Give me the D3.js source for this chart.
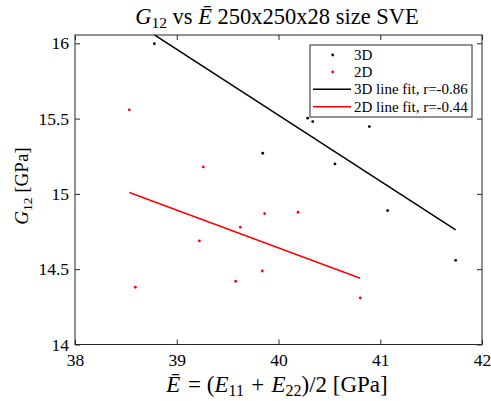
<!DOCTYPE html>
<html>
<head>
<meta charset="utf-8">
<script src="https://cdn.jsdelivr.net/npm/d3@7/dist/d3.min.js"></script>
<style>
  html, body { margin: 0; padding: 0; background: #fff; }
  svg text { font-family: "Liberation Serif", "Times New Roman", serif; fill: #000; }
</style>
</head>
<body>
<svg id="chart" width="491" height="401"></svg>
<script>
// Mean modulus E-bar (GPa) and shear modulus G12 (GPa) per sample
const x3D = [38.78, 39.845, 40.287, 40.336, 40.893, 40.555, 41.073, 41.741];
const y3D = [15.997, 15.27, 15.503, 15.48, 15.447, 15.199, 14.889, 14.559];
const x2D = [38.534, 39.261, 39.222, 39.625, 39.579, 39.841, 39.864, 38.593, 40.192, 40.804];
const y2D = [15.558, 15.179, 14.688, 14.779, 14.42, 14.488, 14.869, 14.38, 14.878, 14.309];

// Least-squares fit lines, evaluated at the ends of each data range
const fit3DX = [38.78, 41.741];
const fit3DY = [16.056, 14.761];
const fit2DX = [38.534, 40.804];
const fit2DY = [15.009, 14.44];

const xTicks = [38, 39, 40, 41, 42];
const yTicks = [14, 14.5, 15, 15.5, 16];
const legendLabels = ["3D", "2D", "3D line fit, r=-0.86", "2D line fit, r=-0.44"];

const svg = d3.select("#chart");
const L = 75, R = 482, T = 35, B = 344.5;
const axisColor = "#262626";
const serif = "'Liberation Serif', 'Times New Roman', serif";

const x = d3.scaleLinear().domain([38, 42]).range([L, R]);
const y = d3.scaleLinear().domain([14, 16.055]).range([B, T]);

svg.append("defs").append("clipPath").attr("id", "plotArea")
  .append("rect").attr("x", L).attr("y", T).attr("width", R - L).attr("height", B - T);

const fmt = d => String(d);

// Axes with inward ticks on all four sides
const gB = svg.append("g").attr("transform", `translate(0,${B})`)
  .call(d3.axisBottom(x).tickValues(xTicks).tickFormat(fmt).tickSizeInner(-5).tickSizeOuter(0).tickPadding(9));
const gT = svg.append("g").attr("transform", `translate(0,${T})`)
  .call(d3.axisTop(x).tickValues(xTicks).tickFormat("").tickSizeInner(-5).tickSizeOuter(0));
const gL = svg.append("g").attr("transform", `translate(${L},0)`)
  .call(d3.axisLeft(y).tickValues(yTicks).tickFormat(fmt).tickSizeInner(-5).tickSizeOuter(0).tickPadding(6));
const gR = svg.append("g").attr("transform", `translate(${R},0)`)
  .call(d3.axisRight(y).tickValues(yTicks).tickFormat("").tickSizeInner(-5).tickSizeOuter(0));

[gB, gT, gL, gR].forEach(g => {
  g.select(".domain").remove();
  g.selectAll(".tick line").attr("stroke", axisColor).attr("stroke-width", 1);
  g.selectAll(".tick text").style("font-family", serif).attr("font-size", 17.5).attr("fill", "#000");
});

svg.append("rect").attr("x", L).attr("y", T).attr("width", R - L).attr("height", B - T)
  .attr("fill", "none").attr("stroke", axisColor).attr("stroke-width", 1);

const plot = svg.append("g").attr("clip-path", "url(#plotArea)");

// Scatter points
plot.selectAll("circle.p3d").data(d3.range(x3D.length)).join("circle")
  .attr("class", "p3d").attr("cx", i => x(x3D[i])).attr("cy", i => y(y3D[i]))
  .attr("r", 1.4).attr("fill", "#000");
plot.selectAll("circle.p2d").data(d3.range(x2D.length)).join("circle")
  .attr("class", "p2d").attr("cx", i => x(x2D[i])).attr("cy", i => y(y2D[i]))
  .attr("r", 1.4).attr("fill", "#ff0000");

// Fit lines
const line = d3.line().x(d => x(d[0])).y(d => y(d[1]));
plot.append("path").datum(d3.zip(fit3DX, fit3DY)).attr("d", line)
  .attr("fill", "none").attr("stroke", "#000").attr("stroke-width", 1.5);
plot.append("path").datum(d3.zip(fit2DX, fit2DY)).attr("d", line)
  .attr("fill", "none").attr("stroke", "#ff0000").attr("stroke-width", 1.5);

// Title
const title = svg.append("text").attr("x", 277).attr("y", 24).attr("text-anchor", "middle")
  .style("font-family", serif).attr("font-size", 22.5);
title.append("tspan").attr("font-style", "italic").text("G");
title.append("tspan").attr("font-size", 15.5).attr("dy", 4).text("12");
title.append("tspan").attr("dy", -4).text(" vs ");
title.append("tspan").attr("font-style", "italic").text("Ē");
title.append("tspan").text(" 250x250x28 size SVE");

// X axis label
const xl = svg.append("text").attr("x", 277).attr("y", 392).attr("text-anchor", "middle")
  .style("font-family", serif).attr("font-size", 23);
xl.append("tspan").attr("font-style", "italic").text("Ē");
xl.append("tspan").attr("dx", 2).text(" = (");
xl.append("tspan").attr("font-style", "italic").text("E");
xl.append("tspan").attr("font-size", 16).attr("dy", 4).text("11");
xl.append("tspan").attr("dy", -4).attr("dx", 1.5).text(" + ");
xl.append("tspan").attr("font-style", "italic").attr("dx", 1.5).text("E");
xl.append("tspan").attr("font-size", 16).attr("dy", 4).text("22");
xl.append("tspan").attr("dy", -4).text(")/2 [GPa]");

// Y axis label
const yl = svg.append("text").attr("transform", "translate(28,186) rotate(-90)")
  .attr("text-anchor", "middle").style("font-family", serif).attr("font-size", 19);
yl.append("tspan").attr("font-style", "italic").text("G");
yl.append("tspan").attr("font-size", 13.5).attr("dy", 4).text("12");
yl.append("tspan").attr("dy", -4).text(" [GPa]");

// Legend
const lg = svg.append("g");
lg.append("rect").attr("x", 310).attr("y", 45).attr("width", 162).attr("height", 72)
  .attr("fill", "#fff").attr("stroke", axisColor).attr("stroke-width", 1);
const rowY = [55, 72, 89.3, 106.7];
const legColors = ["#000", "#ff0000", "#000", "#ff0000"];
legendLabels.forEach((lab, i) => {
  if (i < 2) {
    lg.append("circle").attr("cx", 332.7).attr("cy", rowY[i]).attr("r", 1.4).attr("fill", legColors[i]);
  } else {
    lg.append("line").attr("x1", 313).attr("x2", 351).attr("y1", rowY[i]).attr("y2", rowY[i])
      .attr("stroke", legColors[i]).attr("stroke-width", 1.5);
  }
  lg.append("text").attr("x", 354).attr("y", rowY[i]).attr("dy", "0.33em")
    .style("font-family", serif).attr("font-size", 15).text(lab);
});
</script>
</body>
</html>
